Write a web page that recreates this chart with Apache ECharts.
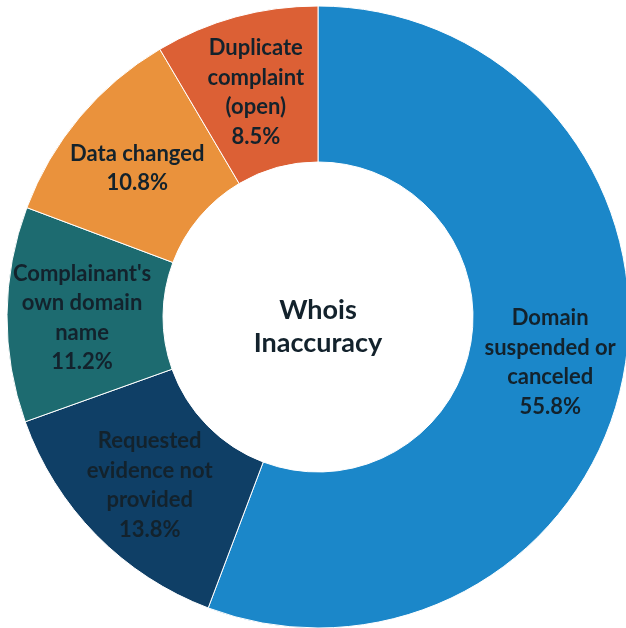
<!DOCTYPE html>
<html>
<head>
<meta charset="utf-8">
<script src="https://cdn.jsdelivr.net/npm/echarts@6/dist/echarts.min.js"></script>
<style>
html,body{margin:0;padding:0;background:#fff;}
#chart{width:626px;height:628px;}
</style>
</head>
<body>
<div id="chart"></div>
<script>
const categories = [
  "Domain\nsuspended or\ncanceled",
  "Requested\nevidence not\nprovided",
  "Complainant's\nown domain\nname",
  "Data changed",
  "Duplicate\ncomplaint\n(open)"
];
const values = [55.8, 13.8, 11.2, 10.8, 8.5];
const colors = ["#1B87C9", "#0F3F66", "#1D6B70", "#EA923C", "#DC6035"];
const centerTitle = "Whois\nInaccuracy";

const chart = echarts.init(document.getElementById('chart'), null, {renderer: 'canvas'});
const textColor = '#13222C';
chart.setOption({
  animation: false,
  series: [{
    type: 'pie',
    center: [318, 317],
    radius: [155, 311],
    startAngle: 90,
    clockwise: true,
    avoidLabelOverlap: false,
    itemStyle: {borderColor: '#ffffff', borderWidth: 1},
    label: {
      show: true,
      position: 'inside',
      color: textColor,
      fontFamily: 'Lato',
      fontWeight: 'bold',
      fontSize: 22,
      lineHeight: 29.5,
      align: 'center',
      offset: [0, 3],
      formatter: p => p.name + '\n' + p.value.toFixed(1) + '%'
    },
    labelLine: {show: false},
    emphasis: {disabled: true},
    data: categories.map((c, i) => ({name: c, value: values[i], itemStyle: {color: colors[i]}}))
  }],
  graphic: [{
    type: 'text',
    x: 318,
    y: 327,
    style: {
      text: centerTitle,
      fill: textColor,
      font: 'bold 27px Lato',
      lineHeight: 33,
      align: 'center',
      verticalAlign: 'middle'
    }
  }]
});
</script>
</body>
</html>
